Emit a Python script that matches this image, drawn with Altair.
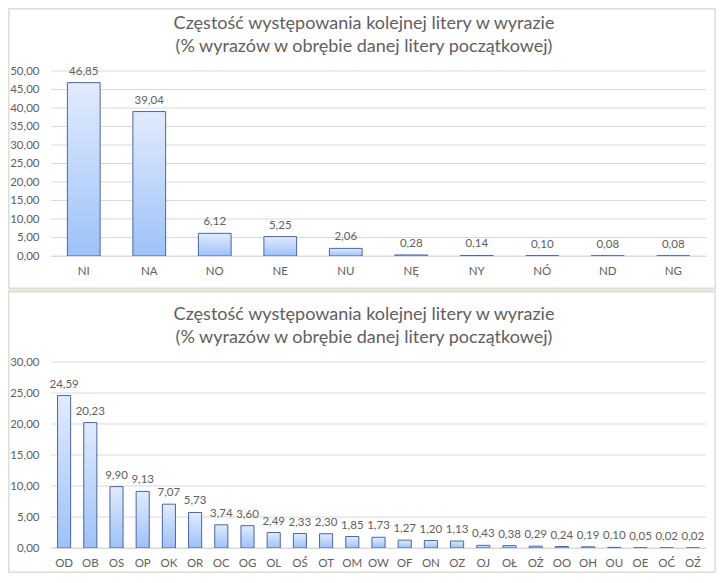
import altair as alt
import pandas as pd

title1 = "Częstość występowania kolejnej litery w wyrazie"
title2 = "(% wyrazów w obrębie danej litery początkowej)"

n_cats = ["NI", "NA", "NO", "NE", "NU", "NĘ", "NY", "NÓ", "ND", "NG"]
n_vals = [46.85, 39.04, 6.12, 5.25, 2.06, 0.28, 0.14, 0.10, 0.08, 0.08]
n_ticks = [0, 5, 10, 15, 20, 25, 30, 35, 40, 45, 50]

o_cats = ["OD", "OB", "OS", "OP", "OK", "OR", "OC", "OG", "OL", "OŚ", "OT", "OM",
          "OW", "OF", "ON", "OZ", "OJ", "OŁ", "OŻ", "OO", "OH", "OU", "OE", "OĆ", "OŹ"]
o_vals = [24.59, 20.23, 9.90, 9.13, 7.07, 5.73, 3.74, 3.60, 2.49, 2.33, 2.30, 1.85,
          1.73, 1.27, 1.20, 1.13, 0.43, 0.38, 0.29, 0.24, 0.19, 0.10, 0.05, 0.02, 0.02]
o_ticks = [0, 5, 10, 15, 20, 25, 30]

FONT = "Lato"
TXT = "#606060"
GRID = "#d9d9d9"
PLOT_W = 655
LBL = 11.5

grad = alt.Gradient(
    gradient="linear",
    stops=[alt.GradientStop(offset=0, color="#e1ebfd"),
           alt.GradientStop(offset=1, color="#9dc2f8")],
    x1=0, x2=0, y1=0, y2=1,
)


def panel(cats, vals, ticks, plot_h, top_ext, bottom_ext):
    df = pd.DataFrame({"k": cats, "v": vals})
    ymax = ticks[-1]
    x = alt.X("k:N", sort=cats,
              scale=alt.Scale(paddingInner=0.5, paddingOuter=0.25),
              axis=alt.Axis(title=None, labelAngle=0, ticks=False, grid=False,
                            domainColor=GRID, labelPadding=9, labelFontSize=LBL,
                            labelColor=TXT, labelFont=FONT, zindex=1))
    y = alt.Y("v:Q", scale=alt.Scale(domain=[0, ymax], nice=False, zero=True),
              axis=alt.Axis(title=None, values=ticks, format=".2f", domain=False,
                            ticks=False, grid=False, labelPadding=12,
                            labelFontSize=LBL, labelColor=TXT, labelFont=FONT,
                            zindex=1))
    one = pd.DataFrame({"a": [0]})
    bg = alt.Chart(one).mark_rect(fill="white", stroke="#d6d8d0", strokeWidth=1).encode(
        x=alt.value(-42), x2=alt.value(664),
        y=alt.value(-top_ext), y2=alt.value(plot_h + bottom_ext))
    grid = alt.Chart(pd.DataFrame({"v": ticks})).mark_rule(color=GRID, strokeWidth=1).encode(
        y=y, x=alt.value(0), x2=alt.value(PLOT_W))
    bars = alt.Chart(df).mark_bar(fill=grad, stroke="#4a66a6", strokeWidth=1).encode(x=x, y=y)
    labels = alt.Chart(df).mark_text(baseline="bottom", dy=-6, fontSize=LBL, color=TXT,
                                     font=FONT).encode(
        x=x, y=y, text=alt.Text("v:Q", format=".2f"))
    t1 = alt.Chart(one).mark_text(text=title1, fontSize=18, color=TXT, font=FONT,
                                  align="center", baseline="middle").encode(
        x=alt.value(313), y=alt.value(-47))
    t2 = alt.Chart(one).mark_text(text=title2, fontSize=18, color=TXT, font=FONT,
                                  align="center", baseline="middle").encode(
        x=alt.value(313), y=alt.value(-24))
    return alt.layer(bg, grid, bars, labels, t1, t2).properties(width=PLOT_W, height=plot_h)


p1 = panel(n_cats, n_vals, n_ticks, 185, 62, 32)
p2 = panel(o_cats, o_vals, o_ticks, 186, 70, 24)

chart = alt.vconcat(p1, p2, spacing=2).properties(
    padding=0, background="#e6e9df"
).configure_view(strokeWidth=0).configure(
    locale={"number": {"decimal": ",", "thousands": " ", "grouping": [3],
                       "currency": ["", " zł"]}}
)

chart.save("out.html", embed_options={"renderer": "svg", "actions": False})
